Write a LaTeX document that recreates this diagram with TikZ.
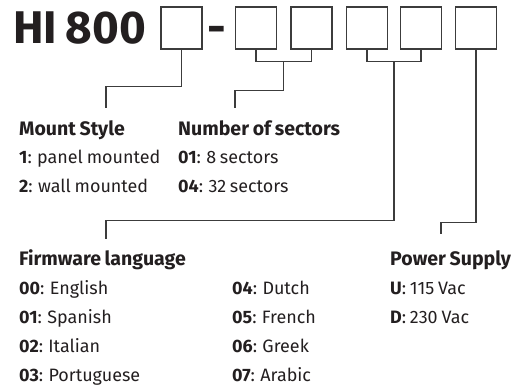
\documentclass[tikz,border=0pt]{standalone}
\usepackage{fontspec}
\setmainfont{Fira Sans}[WordSpace=0.8]
\usetikzlibrary{calc}
\definecolor{ink}{HTML}{231F20}
\definecolor{wire}{HTML}{3C3C3C}
\tikzset{
    slot/.style={draw=wire, line width=1.2bp, minimum width=41bp, minimum height=42bp, inner sep=0pt},
    lead/.style={draw=wire, line width=1.2bp},
    txt/.style={anchor=base west, inner sep=0pt, text=ink, font=\fontsize{18}{20}\selectfont},
    head/.style={txt, font=\fontsize{19.6}{22}\selectfont\bfseries},
    big/.style={inner sep=0pt, text=ink, font=\fontsize{46}{46}\selectfont\bfseries},
}

\begin{document}
\begin{tikzpicture}[x=1bp, y=-1bp]
    \useasboundingbox (0,0) rectangle (517,388);

    % model code
    \node[big, anchor=base west] (code) at (13,43) {HI 800};
    \node[big, anchor=base] (dash) at (217,43) {-};

    \foreach \n/\x in {1/181.5, 2/256, 3/311.5, 4/367, 5/421, 6/476}
        \node[slot] (b\n) at (\x,28) {};

    \coordinate (j23) at ($(b2.south)!0.5!(b3.south)+(0,12)$);
    \coordinate (j45) at ($(b4.south)!0.5!(b5.south)+(0,12)$);

    \coordinate (mEnd) at (106,108);
    \coordinate (sEnd) at (235,108);
    \coordinate (fEnd) at (106,239);
    \coordinate (pEnd) at (441,234);

    \draw[lead] (b1.south) -- ++(0,37) -| (mEnd);
    \draw[lead] (b2.south) -- ++(0,12) -| (b3.south);
    \draw[lead] (j23) -- ++(0,29) -| (sEnd);
    \draw[lead] (b4.south) -- ++(0,12) -| (b5.south);
    \draw[lead] (j45) -- ++(0,159) -| (fEnd);
    \draw[lead] (b6.south) -- ++(0,173) -| (pEnd);

    % Labels
    \node[head] (mnt) at (19,135) {Mount Style};
    \node[txt] (mnt1) at (19,163) {\textbf{1}: panel mounted};
    \node[txt] (mnt2) at (19,192) {\textbf{2}: wall mounted};

    \node[head] (nos) at (178,135) {Number of sectors};
    \node[txt] (nos1) at (178,163) {\textbf{01}: 8 sectors};
    \node[txt] (nos2) at (178,192) {\textbf{04}: 32 sectors};

    \node[head] (fw) at (19,265) {Firmware language};
    \node[txt] (fw0) at (19,294) {\textbf{00}: English};
    \node[txt] (fw1) at (19,323) {\textbf{01}: Spanish};
    \node[txt] (fw2) at (19,352) {\textbf{02}: Italian};
    \node[txt] (fw3) at (19,381) {\textbf{03}: Portuguese};
    \node[txt] (fw4) at (232,294) {\textbf{04}: Dutch};
    \node[txt] (fw5) at (232,323) {\textbf{05}: French};
    \node[txt] (fw6) at (232,352) {\textbf{06}: Greek};
    \node[txt] (fw7) at (232,381) {\textbf{07}: Arabic};

    \node[head] (ps) at (390,265) {Power Supply};
    \node[txt] (psU) at (390,294) {\textbf{U}: 115 Vac};
    \node[txt] (psD) at (390,323) {\textbf{D}: 230 Vac};
\end{tikzpicture}
\end{document}
